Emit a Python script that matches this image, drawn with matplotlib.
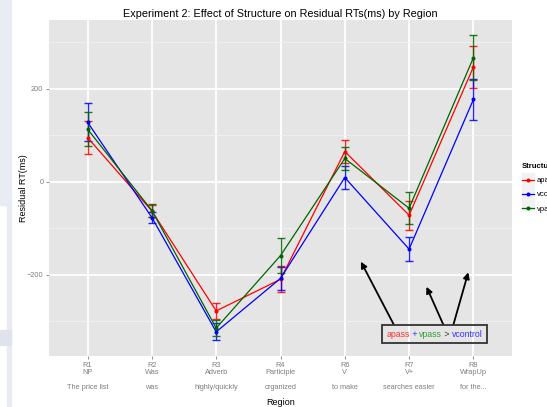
import matplotlib
matplotlib.use("Agg")
import matplotlib.pyplot as plt
from matplotlib.lines import Line2D
from matplotlib.patches import Rectangle
from matplotlib.offsetbox import TextArea, HPacker, AnnotationBbox

plt.rcParams['font.family'] = ['Liberation Sans', 'DejaVu Sans']

region_codes = ["R1", "R2", "R3", "R4", "R6", "R7", "R8"]
region_names = ["NP", "Was", "Adverb", "Participle", "V", "V+", "WrapUp"]
region_words = ["The price list", "was", "highly/quickly", "organized",
                "to make", "searches easier", "for the..."]

structures = ["apass", "vcontrol", "vpass"]
colors = ["#ff0000", "#0000ff", "#006400"]

apass = [95, -63, -278, -210, 65, -72, 247]
apass_err = [35, 12, 17, 28, 25, 31, 46]
vcontrol = [128, -77, -323, -208, 9, -145, 177]
vcontrol_err = [41, 12, 18, 25, 24, 25, 44]
vpass = [113, -62, -315, -159, 50, -57, 267]
vpass_err = [36, 14, 17, 37, 24, 34, 48]

means = [apass, vcontrol, vpass]
errs = [apass_err, vcontrol_err, vpass_err]

fig = plt.figure(figsize=(5.47, 4.07), dpi=100)

# strip of window chrome along the left edge
fig.patches.append(Rectangle((0, 1 - 205 / 407), 11 / 547, 205 / 407,
                             transform=fig.transFigure, color="#e9ecf3", zorder=-5))
fig.patches.append(Rectangle((7 / 547, 0), 4 / 547, 1 - 205 / 407,
                             transform=fig.transFigure, color="#e8ebf2", zorder=-5))
fig.patches.append(Rectangle((0, 1 - 345 / 407), 11 / 547, 15 / 407,
                             transform=fig.transFigure, color="#dfe3ec", zorder=-5))

ax = fig.add_axes([49 / 547, 1 - 356 / 407, 463 / 547, 336 / 407])
ax.set_facecolor("#e5e5e5")
for s in ax.spines.values():
    s.set_visible(False)

x = list(range(1, len(region_codes) + 1))

ax.set_yticks([-200, 0, 200])
ax.set_yticks([-300, -100, 100, 300], minor=True)
ax.set_xticks(x)
ax.grid(which="major", color="white", linewidth=1.3)
ax.grid(which="minor", axis="y", color="#f2f2f2", linewidth=0.6)
ax.set_axisbelow(True)

for m, e, c in zip(means, errs, colors):
    ax.errorbar(x, m, yerr=e, fmt="none", ecolor=c, elinewidth=1.0,
                capsize=2.6, capthick=1.0, alpha=0.85, zorder=3)
    ax.plot(x, m, color=c, linewidth=0.9, marker="o", markersize=1.9, zorder=4)

ax.set_xlim(0.4, 7.6)
ax.set_ylim(-375, 348)

ax.set_xticklabels([f"{a}\n{b}\n\n{w}" for a, b, w in zip(region_codes, region_names, region_words)],
                   fontsize=5.3, color="#7f7f7f", linespacing=1.05)
ax.tick_params(axis="y", labelsize=5.3, labelcolor="#7f7f7f", length=2.5,
               width=0.6, color="#7f7f7f", pad=1.5)
ax.tick_params(axis="y", which="minor", length=0)
ax.tick_params(axis="x", length=2.5, width=0.6, color="#7f7f7f", pad=2)

ax.set_title("Experiment 2: Effect of Structure on Residual RTs(ms) by Region",
             fontsize=7.8, pad=2)
ax.set_xlabel("Region", fontsize=6.5, labelpad=5)
ax.set_ylabel("Residual RT(ms)", fontsize=6.5, labelpad=-1)

# arrows pointing from the annotation box to the V and V+ regions
arrow_kw = dict(arrowstyle="-|>", color="black", lw=1.3, mutation_scale=9,
                shrinkA=0, shrinkB=0)
ax.annotate("", xy=(5.25, -172), xytext=(5.76, -307), arrowprops=arrow_kw, zorder=5)
ax.annotate("", xy=(6.27, -226), xytext=(6.53, -307), arrowprops=arrow_kw, zorder=5)
ax.annotate("", xy=(6.92, -195), xytext=(6.69, -307), arrowprops=arrow_kw, zorder=5)

parts = [("apass", "#ff3333"), (" + ", "#3333ff"), ("vpass", "#33a033"),
         (" > ", "#333333"), ("vcontrol", "#3333ff")]
pack = HPacker(children=[TextArea(t, textprops=dict(color=c, fontsize=6.3)) for t, c in parts],
               pad=0, sep=0, align="baseline")
ab = AnnotationBbox(pack, (6.395, -328), xycoords="data", frameon=True, pad=0.45,
                    bboxprops=dict(edgecolor="#333333", linewidth=1.3, facecolor="none",
                                   boxstyle="square"), zorder=6)
ax.add_artist(ab)

# grey key backgrounds behind the legend entries
for row_y in (179, 192, 204):
    fig.patches.append(Rectangle((522 / 547, 1 - (row_y + 6) / 407), 12 / 547, 12 / 407,
                                 transform=fig.transFigure, color="#f2f2f2", zorder=-1))

handles = [Line2D([], [], color=c, linewidth=0.9, marker="o", markersize=1.9) for c in colors]
leg = fig.legend(handles, structures, loc="upper left", bbox_to_anchor=(519 / 547, 1 - 160 / 407),
                 title="Structure", fontsize=5.5, title_fontsize=5.5, frameon=False,
                 handlelength=1.6, handletextpad=0.3, labelspacing=0.9, borderaxespad=0)
leg.get_title().set_fontweight("bold")
leg._legend_box.align = "left"

fig.savefig("out.png", dpi=100, facecolor="white")
